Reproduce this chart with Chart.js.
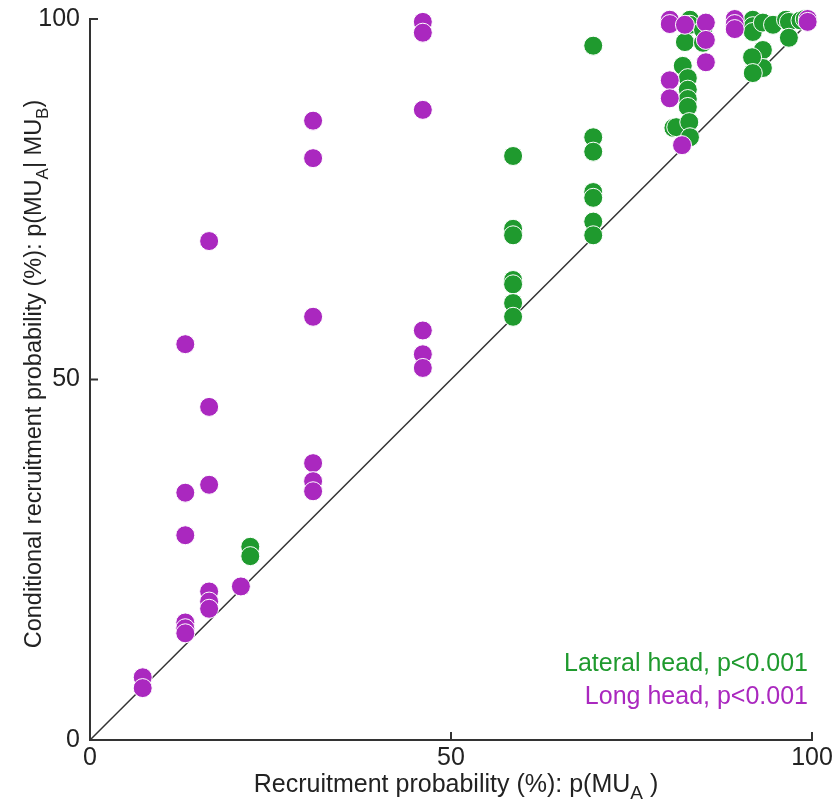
<!DOCTYPE html>
<html>
<head>
<meta charset="utf-8">
<script src="https://cdn.jsdelivr.net/npm/chart.js@4.4.1/dist/chart.umd.min.js"></script>
<style>
  html, body { margin: 0; padding: 0; background: #fff; }
  canvas { display: block; }
</style>
</head>
<body>
<canvas id="c" width="835" height="802"></canvas>
<script>
// long head (purple) points
const longX = [7.3, 7.3,
  13.2, 13.2, 13.2, 13.2, 13.2, 13.2,
  16.5, 16.5, 16.5, 16.5, 16.5, 16.5,
  20.9,
  30.9, 30.9, 30.9, 30.9, 30.9, 30.9,
  46.1, 46.1, 46.1, 46.1, 46.1, 46.1,
  80.3, 80.3, 80.3, 80.3, 82.0, 82.4,
  85.3, 85.3, 85.3,
  89.3, 89.3, 89.3,
  99.4, 99.4];
const longY = [8.7, 7.2,
  54.9, 34.3, 28.4, 16.3, 15.5, 14.8,
  69.2, 46.2, 35.4, 20.6, 19.2, 18.2,
  21.3,
  85.9, 80.7, 58.7, 38.4, 35.9, 34.5,
  99.6, 98.1, 87.4, 56.8, 53.5, 51.6,
  99.9, 99.3, 91.5, 89.0, 82.5, 99.2,
  99.5, 97.1, 94.0,
  100, 99.3, 98.6,
  100, 99.6];

// lateral head (green) points
const latX = [22.2, 22.2,
  58.6, 58.6, 58.6, 58.6, 58.6, 58.6, 58.6,
  69.7, 69.7, 69.7, 69.7, 69.7, 69.7, 69.7,
  83.1, 83.1, 82.4, 84.9, 84.9, 82.1, 82.8, 82.8, 82.8, 82.8, 80.8, 81.2, 83.0, 83.1,
  91.8, 91.8, 91.8, 93.2, 93.2, 93.2, 91.7, 91.8, 94.6, 96.4, 96.8, 96.8, 98.4, 99.0];
const latY = [26.8, 25.5,
  81.0, 70.9, 70.0, 63.8, 63.2, 60.6, 58.7,
  96.3, 83.6, 81.6, 76.0, 75.2, 71.9, 70.0,
  99.9, 99.2, 96.8, 96.7, 98.5, 93.5, 91.8, 90.2, 88.9, 87.8, 84.9, 85.0, 85.7, 83.6,
  99.9, 99.0, 98.2, 99.5, 95.7, 93.2, 94.7, 92.5, 99.2, 99.9, 99.6, 97.4, 99.8, 100];

const diagX = [0, 100];
const diagY = [0, 100];
const xTicks = [0, 50, 100];
const yTicks = [0, 50, 100];

const GREEN = '#1f9a2e';
const PURPLE = '#aa28bf';
const FONT = "'Liberation Sans', Arial, sans-serif";

const pts = (xs, ys) => xs.map((v, i) => ({ x: v, y: ys[i] }));

// draw text with subscript parts, centred on cx
function drawRich(ctx, parts, cx, cy, size) {
  const subSize = Math.round(size * 0.74);
  let w = 0;
  parts.forEach(p => {
    ctx.font = (p.sub ? subSize : size) + 'px ' + FONT;
    p.w = ctx.measureText(p.t).width;
    w += p.w;
  });
  let x = cx - w / 2;
  ctx.textAlign = 'left';
  ctx.textBaseline = 'alphabetic';
  parts.forEach(p => {
    ctx.font = (p.sub ? subSize : size) + 'px ' + FONT;
    ctx.fillText(p.t, x, cy + (p.sub ? size * 0.28 : 0));
    x += p.w;
  });
}

const extras = {
  id: 'extras',
  afterDraw(chart) {
    const { ctx, chartArea: a } = chart;
    const xs = chart.scales.x, ys = chart.scales.y;
    ctx.save();
    // inward tick marks
    ctx.strokeStyle = '#333';
    ctx.lineWidth = 2;
    ctx.beginPath();
    xTicks.forEach(v => {
      const px = xs.getPixelForValue(v);
      ctx.moveTo(px, a.bottom);
      ctx.lineTo(px, a.bottom - 8);
    });
    yTicks.forEach(v => {
      const py = ys.getPixelForValue(v);
      ctx.moveTo(a.left, py);
      ctx.lineTo(a.left + 8, py);
    });
    ctx.stroke();

    // axis titles
    ctx.fillStyle = '#222';
    drawRich(ctx, [{ t: 'Recruitment probability (%): p(MU' }, { t: 'A', sub: true }, { t: ' )' }],
      (a.left + a.right) / 2 + 5, 792, 25);
    ctx.save();
    ctx.translate(41, 374);
    ctx.rotate(-Math.PI / 2);
    drawRich(ctx, [{ t: 'Conditional recruitment probability (%): p(MU' }, { t: 'A', sub: true },
      { t: '| MU' }, { t: 'B', sub: true }, { t: ')' }], 0, 0, 23.5);
    ctx.restore();

    // stats text
    ctx.font = '25px ' + FONT;
    ctx.textAlign = 'right';
    ctx.textBaseline = 'alphabetic';
    ctx.fillStyle = GREEN;
    ctx.fillText('Lateral head, p<0.001', 808, 671);
    ctx.fillStyle = PURPLE;
    ctx.fillText('Long head, p<0.001', 808, 704);
    ctx.restore();
  }
};

new Chart(document.getElementById('c'), {
  type: 'scatter',
  data: {
    datasets: [
      {
        label: 'Long head',
        data: pts(longX, longY),
        backgroundColor: PURPLE,
        borderColor: '#fff',
        borderWidth: 1,
        pointRadius: 9.5,
        clip: false,
        order: 1
      },
      {
        label: 'Lateral head',
        data: pts(latX, latY),
        backgroundColor: GREEN,
        borderColor: '#fff',
        borderWidth: 1,
        pointRadius: 9.5,
        clip: false,
        order: 2
      },
      {
        type: 'line',
        label: 'identity',
        data: pts(diagX, diagY),
        borderColor: '#333',
        borderWidth: 1.5,
        pointRadius: 0,
        fill: false,
        order: 3
      }
    ]
  },
  options: {
    responsive: false,
    animation: false,
    devicePixelRatio: 1,
    layout: { padding: { top: 19, right: 23, left: 0, bottom: 0 } },
    plugins: { legend: { display: false }, tooltip: { enabled: false } },
    scales: {
      x: {
        type: 'linear',
        min: 0, max: 100,
        afterBuildTicks: s => { s.ticks = xTicks.map(v => ({ value: v })); },
        afterFit: s => { s.height = 62; s.paddingLeft = 0; s.paddingRight = 0; },
        grid: { display: false, drawTicks: false },
        border: { display: true, color: '#333', width: 2 },
        ticks: { font: { size: 25, family: FONT }, color: '#222', padding: 3, maxRotation: 0 }
      },
      y: {
        type: 'linear',
        min: 0, max: 100,
        afterBuildTicks: s => { s.ticks = yTicks.map(v => ({ value: v })); },
        afterFit: s => { s.width = 90; s.paddingTop = 0; s.paddingBottom = 0; },
        grid: { display: false, drawTicks: false },
        border: { display: true, color: '#333', width: 2 },
        ticks: { font: { size: 25, family: FONT }, color: '#222', padding: 10 }
      }
    }
  },
  plugins: [extras]
});
</script>
</body>
</html>
